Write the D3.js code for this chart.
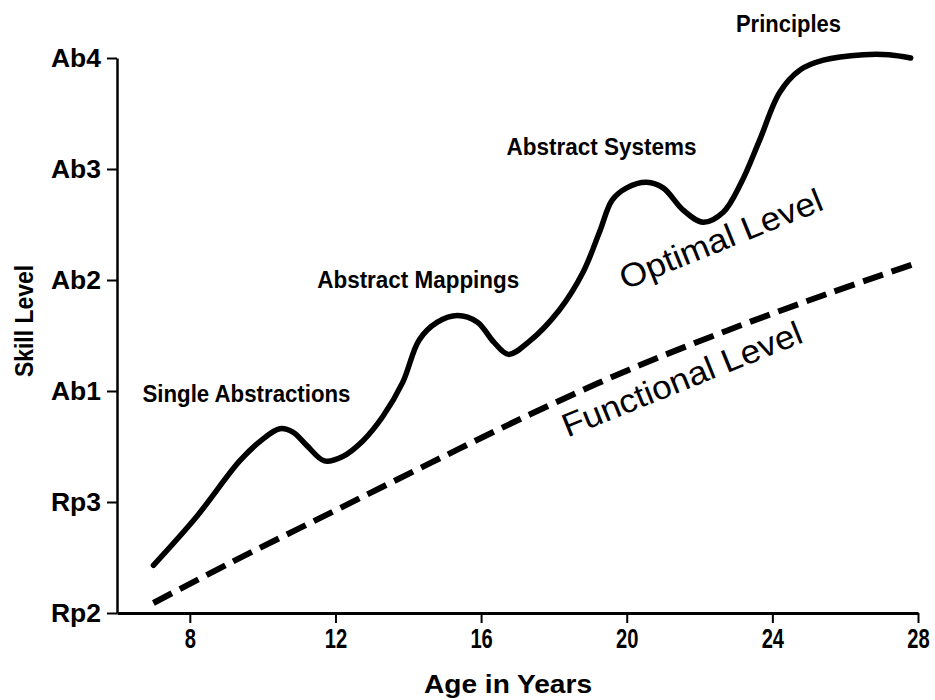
<!DOCTYPE html>
<html>
<head>
<meta charset="utf-8">
<script src="https://cdn.jsdelivr.net/npm/d3@7"></script>
<style>
  body { margin: 0; background: #fff; }
  svg { display: block; }
  text { font-family: "Liberation Sans", Arial, Helvetica, sans-serif; fill: #000; }
</style>
</head>
<body>
<svg id="chart"></svg>
<script>
// skill levels (bottom to top) and age ticks
var levelLabels = ['Rp2', 'Rp3', 'Ab1', 'Ab2', 'Ab3', 'Ab4'];
var ageTicks = [8, 12, 16, 20, 24, 28];

// optimal level curve (age, level index)
var optimalAge = [7.0, 8.19, 9.37, 9.98, 10.47, 10.83, 11.21, 11.7, 12.2, 12.75, 13.3, 13.85, 14.3, 14.8, 15.35, 15.9, 16.35, 16.75, 17.3, 18.15, 18.8, 19.25, 19.6, 20.0, 20.55, 21.0, 21.55, 22.1, 22.65, 23.15, 23.65, 24.2, 24.75, 25.4, 26.5, 27.2, 27.8];
var optimalLevel = [0.43, 0.87, 1.37, 1.56, 1.66, 1.63, 1.51, 1.37, 1.41, 1.55, 1.77, 2.08, 2.46, 2.62, 2.68, 2.62, 2.44, 2.33, 2.44, 2.73, 3.07, 3.43, 3.72, 3.83, 3.88, 3.83, 3.63, 3.52, 3.61, 3.88, 4.26, 4.69, 4.89, 4.98, 5.03, 5.03, 5.00];

// functional level curve
var functionalAge = [7.0, 9.1, 11.85, 14.6, 17.35, 20.05, 22.8, 25.55, 27.85];
var functionalLevel = [0.09, 0.45, 0.90, 1.35, 1.79, 2.19, 2.55, 2.88, 3.14];

// stage names written along the curve
var stageNames = ['Single Abstractions', 'Abstract Mappings', 'Abstract Systems', 'Principles'];
var stageAge = [6.7, 11.5, 16.7, 23.0];
var stageLevel = [1.90, 2.93, 4.13, 5.23];

var width = 935, height = 700;
var svg = d3.select('#chart').attr('width', width).attr('height', height);

var x = d3.scaleLinear().domain([6, 28]).range([117, 918]);
var y = d3.scaleLinear().domain([0, 5]).range([613, 58]);

// axes
var xAxis = d3.axisBottom(x)
  .tickValues(ageTicks)
  .tickSize(10)
  .tickSizeOuter(0)
  .tickPadding(5);
var gx = svg.append('g')
  .attr('transform', 'translate(0,' + y(0) + ')')
  .call(xAxis);
gx.select('.domain').attr('stroke-width', 3);
gx.selectAll('.tick line').attr('stroke-width', 2);
// digits in the scan are tall and narrow
gx.selectAll('.tick text')
  .style('font-size', '28px')
  .style('font-weight', 'bold')
  .attr('transform', 'scale(0.72,1)');

var yAxis = d3.axisLeft(y)
  .tickValues(d3.range(levelLabels.length))
  .tickFormat(function (d) { return levelLabels[d]; })
  .tickSize(10)
  .tickSizeOuter(0)
  .tickPadding(6);
var gy = svg.append('g')
  .attr('transform', 'translate(' + x(6) + ',0)')
  .call(yAxis);
gy.select('.domain').attr('stroke-width', 2.5);
gy.selectAll('.tick line').attr('stroke-width', 2);
gy.selectAll('.tick text')
  .style('font-size', '25px')
  .style('font-weight', 'bold')
  .attr('textLength', 50)
  .attr('lengthAdjust', 'spacingAndGlyphs');

// axis titles
svg.append('text')
  .attr('x', 508)
  .attr('y', 693)
  .attr('text-anchor', 'middle')
  .style('font-size', '26px')
  .style('font-weight', 'bold')
  .attr('textLength', 168)
  .attr('lengthAdjust', 'spacingAndGlyphs')
  .text('Age in Years');

svg.append('text')
  .attr('transform', 'translate(33,321) rotate(-90)')
  .attr('text-anchor', 'middle')
  .style('font-size', '25px')
  .style('font-weight', 'bold')
  .attr('textLength', 112)
  .attr('lengthAdjust', 'spacingAndGlyphs')
  .text('Skill Level');

// curves
var line = d3.line()
  .x(function (d) { return x(d[0]); })
  .y(function (d) { return y(d[1]); })
  .curve(d3.curveCatmullRom.alpha(0.5));

var optimal = d3.zip(optimalAge, optimalLevel);
var functional = d3.zip(functionalAge, functionalLevel);

svg.append('path')
  .datum(functional)
  .attr('d', line)
  .attr('fill', 'none')
  .attr('stroke', '#000')
  .attr('stroke-width', 6)
  .attr('stroke-dasharray', '21,9');

svg.append('path')
  .datum(optimal)
  .attr('d', line)
  .attr('fill', 'none')
  .attr('stroke', '#000')
  .attr('stroke-width', 5.5)
  .attr('stroke-linecap', 'round')
  .attr('stroke-linejoin', 'round');

// stage labels
var widths = [208, 202, 190, 105];
svg.selectAll('.stage')
  .data(stageNames)
  .enter()
  .append('text')
  .attr('class', 'stage')
  .attr('x', function (d, i) { return x(stageAge[i]); })
  .attr('y', function (d, i) { return y(stageLevel[i]); })
  .style('font-size', '23px')
  .style('font-weight', 'bold')
  .attr('textLength', function (d, i) { return widths[i]; })
  .attr('lengthAdjust', 'spacingAndGlyphs')
  .text(function (d) { return d; });

// curve names, written on a slant
svg.append('text')
  .attr('transform', 'translate(' + x(19.95) + ',' + y(2.91) + ') rotate(-22)')
  .style('font-size', '33px')
  .attr('textLength', 216)
  .attr('lengthAdjust', 'spacingAndGlyphs')
  .text('Optimal Level');

svg.append('text')
  .attr('transform', 'translate(' + x(18.37) + ',' + y(1.58) + ') rotate(-22)')
  .style('font-size', '33px')
  .attr('textLength', 256)
  .attr('lengthAdjust', 'spacingAndGlyphs')
  .text('Functional Level');
</script>
</body>
</html>
